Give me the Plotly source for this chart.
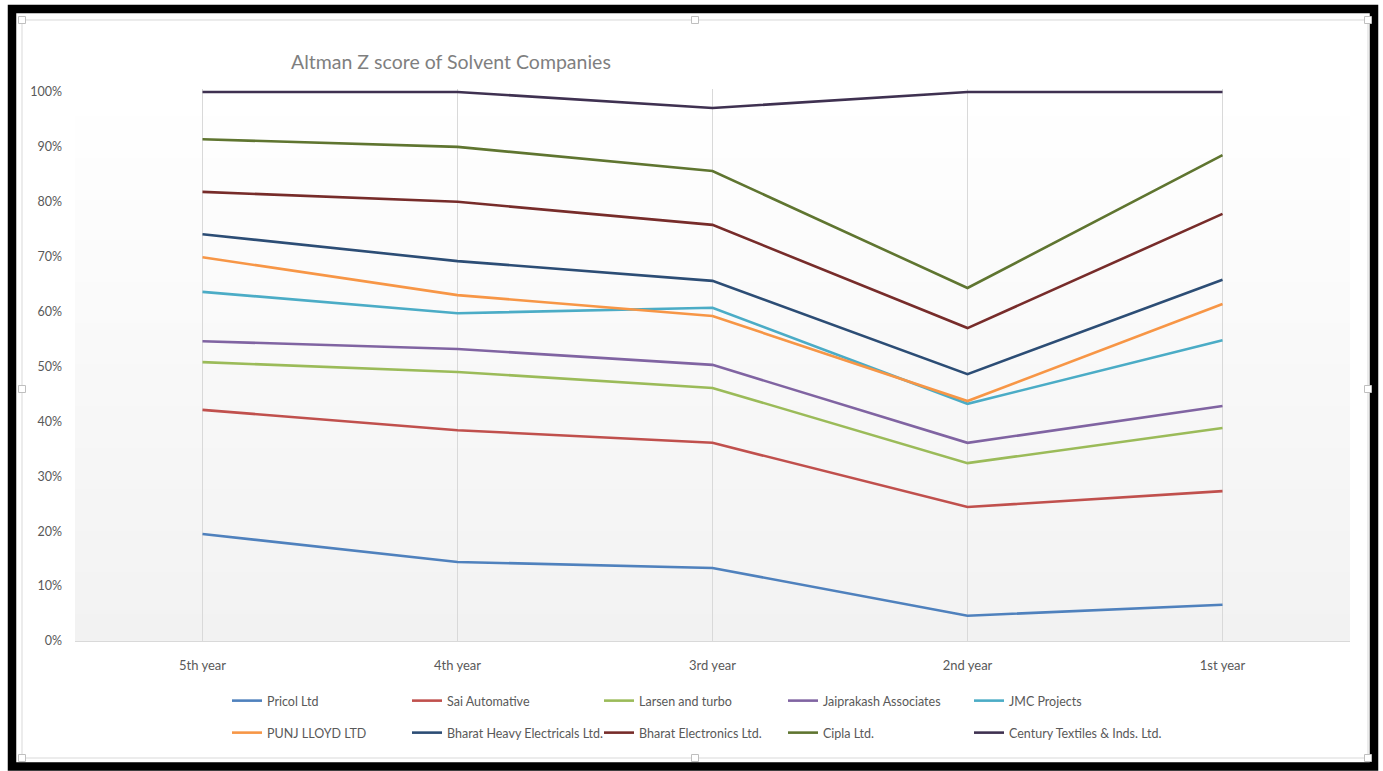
import plotly.graph_objects as go

W, H = 1383, 771

years = ["5th year", "4th year", "3rd year", "2nd year", "1st year"]
companies = [
    "Pricol Ltd", "Sai Automative", "Larsen and turbo", "Jaiprakash Associates", "JMC Projects",
    "PUNJ LLOYD LTD", "Bharat Heavy Electricals Ltd.", "Bharat Electronics Ltd.", "Cipla Ltd.",
    "Century Textiles & Inds. Ltd.",
]
# cumulative (100% stacked) positions, in percent
pricol = [19.5, 14.4, 13.3, 4.6, 6.6]
sai = [42.1, 38.4, 36.1, 24.4, 27.3]
larsen = [50.8, 49.0, 46.1, 32.4, 38.8]
jaiprakash = [54.6, 53.2, 50.3, 36.1, 42.8]
jmc = [63.6, 59.7, 60.7, 43.2, 54.8]
punj = [69.9, 63.0, 59.2, 43.7, 61.4]
bhel = [74.1, 69.2, 65.6, 48.6, 65.8]
bel = [81.8, 80.0, 75.8, 57.0, 77.8]
cipla = [91.4, 90.0, 85.6, 64.3, 88.5]
century = [100.0, 100.0, 97.1, 100.0, 100.0]
series = [pricol, sai, larsen, jaiprakash, jmc, punj, bhel, bel, cipla, century]
colors = ["#4F81BD", "#C0504D", "#9BBB59", "#8064A2", "#4BACC6",
          "#F79646", "#2C4D75", "#772C2A", "#5F7530", "#3F3151"]
y_ticks = list(range(0, 101, 10))
y_ticktext = [f"{v}%" for v in y_ticks]

FONT = "Lato, sans-serif"
TXT = "#595959"

def px_x(p):
    return p / W

def px_y(p):
    return 1 - p / H

fig = go.Figure()

# legend text start x per column, row centre y (pixels)
leg_text_x = [267, 447, 639, 823, 1009]
leg_rows = [701, 733]

layout_legends = {}
for i, (name, vals, col) in enumerate(zip(companies, series, colors)):
    lname = "legend" if i == 0 else f"legend{i + 1}"
    fig.add_trace(go.Scatter(
        x=years, y=vals, name=name, mode="lines",
        line=dict(color=col, width=2.6), legend=lname,
        hovertemplate="%{x}: %{y}%<extra>" + name + "</extra>",
    ))
    tx = leg_text_x[i % 5]
    ry = leg_rows[i // 5]
    layout_legends[lname] = dict(
        x=px_x(tx - 40), y=px_y(ry), xanchor="left", yanchor="middle",
        xref="paper", yref="paper", bgcolor="rgba(0,0,0,0)",
        font=dict(family=FONT, size=12.5, color=TXT),
        itemwidth=30, borderwidth=0,
    )

plot_l, plot_r = 75, 1350
y0_px, y100_px = 641, 92
ymax = 100.6
unit = (y0_px - y100_px) / 100.0
top_px = y0_px - ymax * unit

shapes = []
# gradient plot background
nb = 40
for k in range(nb):
    f0 = k / nb
    f1 = (k + 1) / nb
    t = (f0 + f1) / 2  # 0 at bottom, 1 at top
    g = int(round(242 + (255 - 242) * t))
    shapes.append(dict(type="rect", xref="x domain", yref="y domain", x0=0, x1=1,
                       y0=f0, y1=f1 + 0.002, line=dict(width=0),
                       fillcolor=f"rgb({g},{g},{g})", layer="below"))
# chart area border (light gray) and black frame
shapes.append(dict(type="rect", xref="paper", yref="paper",
                   x0=px_x(22), x1=px_x(1368), y0=px_y(758), y1=px_y(20),
                   line=dict(color="#D9D9D9", width=1), layer="above"))
shapes.append(dict(type="rect", xref="paper", yref="paper",
                   x0=px_x(12), x1=px_x(1374), y0=px_y(766.5), y1=px_y(9),
                   line=dict(color="#000000", width=8.5), layer="above"))
# selection handles
for hx, hy in [(22, 20), (695, 20), (1368, 20), (22, 389), (1368, 389),
               (22, 758), (695, 758), (1368, 758)]:
    shapes.append(dict(type="rect", xref="paper", yref="paper",
                       x0=px_x(hx - 3.5), x1=px_x(hx + 3.5), y0=px_y(hy + 3.5), y1=px_y(hy - 3.5),
                       line=dict(color="#BFBFBF", width=1), fillcolor="white", layer="above"))

fig.update_layout(
    width=W, height=H, autosize=False,
    margin=dict(l=0, r=0, t=0, b=0, pad=0, autoexpand=False),
    paper_bgcolor="white", plot_bgcolor="white",
    showlegend=True,
    title=dict(text="Altman Z score of Solvent Companies", x=px_x(291), xanchor="left",
               y=px_y(62), yanchor="middle", xref="paper", yref="paper",
               font=dict(family=FONT, size=19.5, color="#7F7F7F")),
    xaxis=dict(domain=[px_x(plot_l), px_x(plot_r)], type="category", range=[-0.5, 4.5],
               automargin=False,
               showgrid=True, gridcolor="#D9D9D9", gridwidth=1,
               showline=True, linecolor="#D9D9D9", linewidth=1,
               ticks="", tickfont=dict(family=FONT, size=13, color=TXT),
               ticklabelstandoff=12, zeroline=False, fixedrange=True),
    yaxis=dict(domain=[px_y(y0_px), px_y(top_px)], range=[0, ymax],
               automargin=False,
               tickmode="array", tickvals=y_ticks, ticktext=y_ticktext,
               showgrid=False, zeroline=False,
               ticks="", tickfont=dict(family=FONT, size=12.5, color=TXT),
               ticklabelstandoff=12, fixedrange=True),
    shapes=shapes,
    hovermode="closest",
    **layout_legends,
)

fig.write_html("out.html")
